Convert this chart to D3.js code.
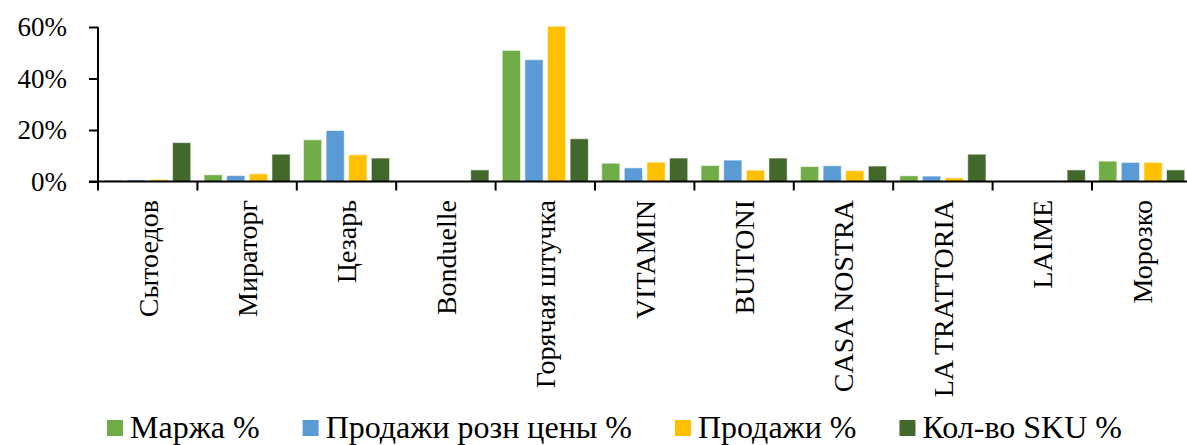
<!DOCTYPE html>
<html>
<head>
<meta charset="utf-8">
<script src="https://cdn.jsdelivr.net/npm/d3@7"></script>
<style>
  html, body { margin: 0; padding: 0; background: #fff; }
  svg { display: block; }
  text { font-family: "Liberation Serif", "Times New Roman", serif; fill: #000; }
</style>
</head>
<body>
<svg id="chart" width="1187" height="445"></svg>
<script>
// Brands along the x axis
const categories = ["Сытоедов", "Мираторг", "Цезарь", "Bonduelle", "Горячая штучка",
  "VITAMIN", "BUITONI", "CASA NOSTRA", "LA TRATTORIA", "LAIME", "Морозко"];

// Series names and colours
const seriesNames = ["Маржа %", "Продажи розн цены %", "Продажи %", "Кол-во SKU %"];
const seriesColors = ["#70AD47", "#5B9BD5", "#FFC000", "#43682B"];

// Shares per brand (fractions)
const marzha      = [0.005, 0.026, 0.162, 0, 0.509, 0.071, 0.062, 0.058, 0.022, 0, 0.079];
const prodRozn    = [0.006, 0.023, 0.198, 0, 0.473, 0.053, 0.083, 0.061, 0.021, 0, 0.074];
const prodazhi    = [0.008, 0.030, 0.104, 0, 0.603, 0.075, 0.044, 0.042, 0.014, 0, 0.074];
const kolvoSku    = [0.151, 0.106, 0.091, 0.045, 0.166, 0.091, 0.091, 0.060, 0.106, 0.045, 0.045];

const yTicks = [0, 0.2, 0.4, 0.6];

const seriesValues = [marzha, prodRozn, prodazhi, kolvoSku];

const serif = "'Liberation Serif', 'Times New Roman', serif";
const svg = d3.select("#chart");
const plotLeft = 98, plotRight = 1191.4, plotTop = 27, plotBottom = 181.5;

const x0 = d3.scaleBand().domain(categories).range([plotLeft, plotRight]).padding(0);
const groupW = x0.bandwidth();
const x1 = d3.scaleBand().domain(d3.range(seriesNames.length))
  .range([groupW * 0.067, groupW * 0.933]).paddingInner(0.195).paddingOuter(0);
const y = d3.scaleLinear().domain([0, 0.6]).range([plotBottom, plotTop]);

// Bars
const groups = svg.append("g").selectAll("g")
  .data(categories)
  .join("g")
  .attr("transform", d => `translate(${x0(d)},0)`);

groups.selectAll("rect")
  .data((c, i) => seriesValues.map((vals, s) => ({ s, v: vals[i] })).filter(d => d.v > 0))
  .join("rect")
  .attr("x", d => x1(d.s))
  .attr("width", x1.bandwidth())
  .attr("y", d => y(d.v))
  .attr("height", d => plotBottom - y(d.v))
  .attr("fill", d => seriesColors[d.s])
  .attr("stroke", "#fff")
  .attr("stroke-opacity", 0.55)
  .attr("stroke-width", 1);

// Y axis
const yAxis = svg.append("g")
  .attr("transform", `translate(${plotLeft},0)`)
  .call(d3.axisLeft(y).tickValues(yTicks).tickFormat(d3.format(".0%")).tickSize(9).tickPadding(22));
yAxis.attr("font-family", null);
yAxis.select(".domain").attr("stroke", "#000").attr("stroke-width", 2)
  .attr("d", `M0,${plotTop}V${plotBottom}`);
yAxis.selectAll(".tick line").attr("stroke", "#000").attr("stroke-width", 2);
yAxis.selectAll(".tick text")
  .style("font-family", serif)
  .style("font-size", "27px")
  .attr("fill", "#000");

// X axis with ticks on category boundaries
const xAxis = svg.append("g").attr("transform", `translate(0,${plotBottom})`);
xAxis.append("line")
  .attr("x1", plotLeft - 9).attr("x2", plotRight + 2)
  .attr("stroke", "#000").attr("stroke-width", 2);
const boundaries = categories.map(c => x0(c)).concat([plotRight]);
xAxis.selectAll("line.tick")
  .data(boundaries)
  .join("line")
  .attr("class", "tick")
  .attr("x1", d => d).attr("x2", d => d)
  .attr("y1", 0).attr("y2", 9)
  .attr("stroke", "#000").attr("stroke-width", 2);

// Rotated category labels
svg.append("g").selectAll("text")
  .data(categories)
  .join("text")
  .attr("transform", d => `translate(${x0(d) + groupW / 2},200) rotate(-90)`)
  .attr("text-anchor", "end")
  .attr("dy", "0.35em")
  .style("font-family", serif)
  .style("font-size", "28px")
  .text(d => d);

// Legend
const legend = svg.append("g").attr("transform", "translate(107,0)");
let lx = 0;
seriesNames.forEach((name, i) => {
  const item = legend.append("g").attr("transform", `translate(${lx},0)`);
  item.append("rect")
    .attr("x", 0).attr("y", 420).attr("width", 16).attr("height", 16)
    .attr("fill", seriesColors[i]);
  const t = item.append("text")
    .attr("x", 23).attr("y", 438)
    .style("font-family", serif)
    .style("font-size", "32px")
    .text(name);
  lx += 23 + t.node().getComputedTextLength() + 43;
});
</script>
</body>
</html>
